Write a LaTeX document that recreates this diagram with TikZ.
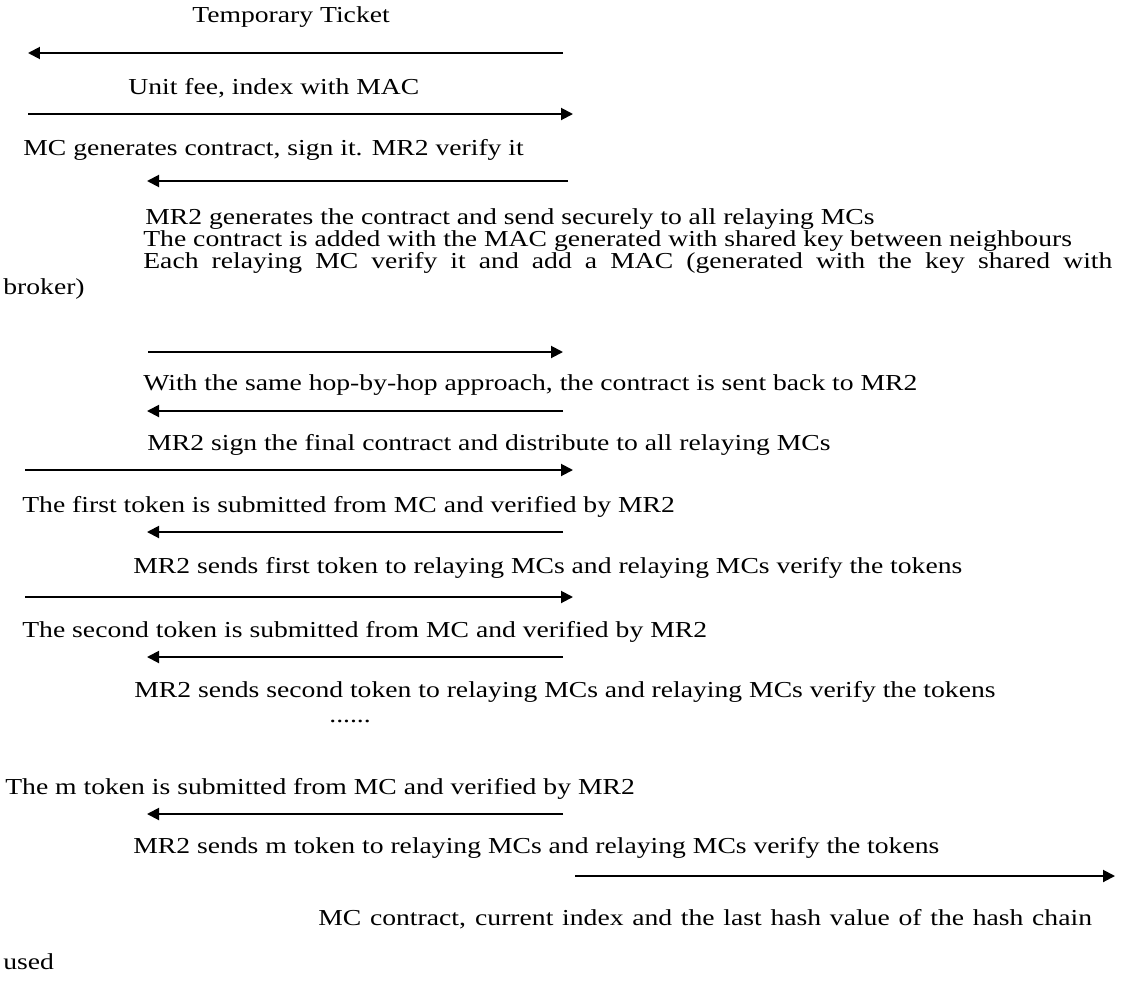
\documentclass[tikz,border=0pt]{standalone}
\usepackage{fontspec}
\setmainfont{Liberation Serif}
\usepackage{graphicx}
\usepackage{tikz}
\usetikzlibrary{arrows.meta}

% the scanned text is set wide
\newcommand{\widetext}[1]{\scalebox{1.21}[1]{#1}}
\newcommand{\widefill}[2]{\scalebox{1.21}[1]{\makebox[#1][s]{#2}}}

\begin{document}
\begin{tikzpicture}[x=0.02cm, y=-0.02cm,
                    msg/.style={line width=1.1pt, -{Triangle[length=0.24cm,width=0.24cm]}},
                    note/.style={anchor=base west, inner sep=0pt, font=\fontsize{13}{15}\selectfont}]
                        \useasboundingbox (0,0) rectangle (1125,984);
                        % ticket and unit fee
                        \node[note] (ticket) at (192,22) {\widetext{Temporary Ticket}};
                        \coordinate (a1s) at (563,53); \coordinate (a1e) at (28,53);
                        \draw[msg] (a1s) -- (a1e);
                        \node[note] (fee) at (128,94) {\widetext{Unit fee, index with MAC}};
                        \coordinate (a2s) at (28,114); \coordinate (a2e) at (573,114);
                        \draw[msg] (a2s) -- (a2e);
                        \node[note] (mcsign) at (23,155) {\widetext{MC generates contract, sign it. MR2 verify it}};
                        \coordinate (a3s) at (568,181); \coordinate (a3e) at (147,181);
                        \draw[msg] (a3s) -- (a3e);
                        % contract to relaying MCs
                        \node[note] (mrgen) at (145,224) {\widetext{MR2 generates the contract and send securely to all relaying MCs}};
                        \node[note] (added) at (143,246) {\widetext{The contract is added with the MAC generated with shared key between neighbours}};
                        \node[note] (each) at (143,268) {\widefill{16.02cm}{Each relaying MC verify it and add a MAC (generated with the key shared with}};
                        \node[note] (broker) at (3,294) {\widetext{broker)}};
                        \coordinate (a4s) at (148,352); \coordinate (a4e) at (563,352);
                        \draw[msg] (a4s) -- (a4e);
                        \node[note] (back) at (143,390) {\widetext{With the same hop-by-hop approach, the contract is sent back to MR2}};
                        \coordinate (a5s) at (563,411); \coordinate (a5e) at (147,411);
                        \draw[msg] (a5s) -- (a5e);
                        \node[note] (final) at (147,450) {\widetext{MR2 sign the final contract and distribute to all relaying MCs}};
                        % tokens
                        \coordinate (a6s) at (25,470); \coordinate (a6e) at (573,470);
                        \draw[msg] (a6s) -- (a6e);
                        \node[note] (tok1) at (22,512) {\widetext{The first token is submitted from MC and verified by MR2}};
                        \coordinate (a7s) at (563,532); \coordinate (a7e) at (147,532);
                        \draw[msg] (a7s) -- (a7e);
                        \node[note] (send1) at (133,573) {\widetext{MR2 sends first token to relaying MCs and relaying MCs verify the tokens}};
                        \coordinate (a8s) at (25,597); \coordinate (a8e) at (573,597);
                        \draw[msg] (a8s) -- (a8e);
                        \node[note] (tok2) at (22,637) {\widetext{The second token is submitted from MC and verified by MR2}};
                        \coordinate (a9s) at (563,657); \coordinate (a9e) at (147,657);
                        \draw[msg] (a9s) -- (a9e);
                        \node[note] (send2) at (134,697) {\widetext{MR2 sends second token to relaying MCs and relaying MCs verify the tokens}};
                        \node[note] (dots) at (329,722) {\widetext{......}};
                        \node[note] (tokm) at (5,794) {\widetext{The m token is submitted from MC and verified by MR2}};
                        \coordinate (a10s) at (563,814); \coordinate (a10e) at (147,814);
                        \draw[msg] (a10s) -- (a10e);
                        \node[note] (sendm) at (133,853) {\widetext{MR2 sends m token to relaying MCs and relaying MCs verify the tokens}};
                        % final report
                        \coordinate (a11s) at (575,876); \coordinate (a11e) at (1115,876);
                        \draw[msg] (a11s) -- (a11e);
                        \node[note] (report) at (318,925) {\widefill{12.79cm}{MC contract, current index and the last hash value of the hash chain}};
                        \node[note] (used) at (3,969) {\widetext{used}};
                    \end{tikzpicture}
\end{document}
